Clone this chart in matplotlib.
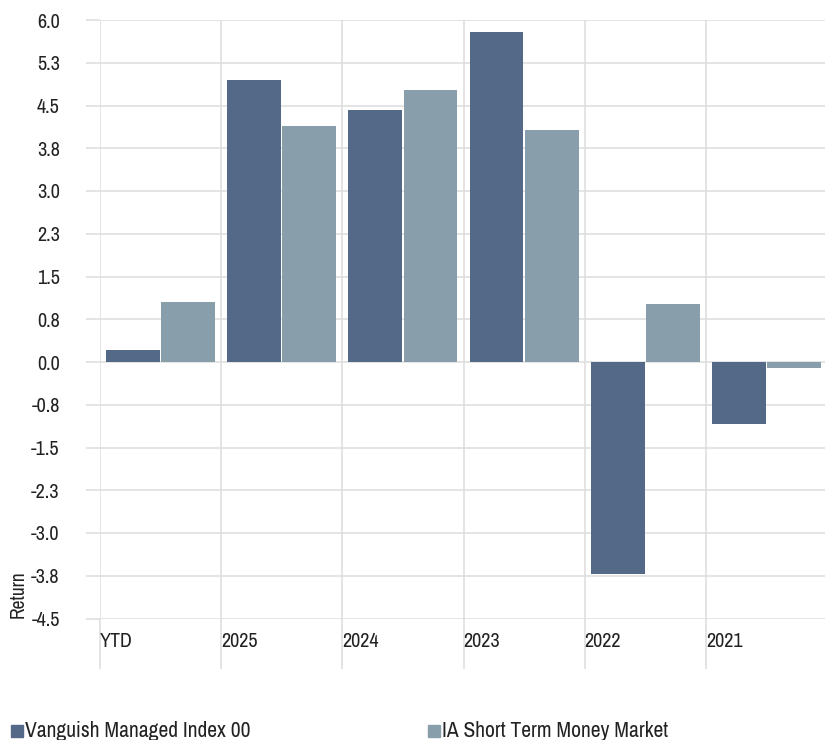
import matplotlib
matplotlib.use("Agg")
import matplotlib.pyplot as plt
from matplotlib import font_manager
from matplotlib.patches import Rectangle
import numpy as np

# data
categories = ["YTD", "2025", "2024", "2023", "2022", "2021"]
series_names = ["Vanguish Managed Index 00", "IA Short Term Money Market"]
fund_returns = [0.21, 4.95, 4.42, 5.79, -3.72, -1.09]
sector_returns = [1.05, 4.14, 4.77, 4.07, 1.02, -0.11]
y_ticks = [6.0, 5.25, 4.5, 3.75, 3.0, 2.25, 1.5, 0.75, 0.0,
           -0.75, -1.5, -2.25, -3.0, -3.75, -4.5]
y_tick_labels = ["6.0", "5.3", "4.5", "3.8", "3.0", "2.3", "1.5", "0.8", "0.0",
                 "-0.8", "-1.5", "-2.3", "-3.0", "-3.8", "-4.5"]

colors = ["#546888", "#889eaa"]
grid_col = "#dddddd"
text_col = "#222222"

# the original uses a condensed face; pick one if any is installed
family, stretch = "DejaVu Sans", "normal"
fonts = font_manager.fontManager.ttflist
for f in fonts:
    if "Narrow" in f.name or "Condensed" in f.name:
        family = f.name
        break
else:
    for f in fonts:
        if f.stretch in ("condensed", "semi-condensed", 375) and f.name.startswith(("DejaVu Sans", "Noto Sans", "Roboto", "Open Sans")):
            family, stretch = f.name, f.stretch
            break
plt.rcParams["font.family"] = [family, "DejaVu Sans"]
plt.rcParams["font.stretch"] = stretch

W, H = 825, 740
fig = plt.figure(figsize=(W / 100, H / 100), dpi=100)
ax = fig.add_axes([100 / W, (H - 618.5) / H, 727 / W, 598.5 / H])

x = np.arange(len(categories))
bw = 0.445
ax.bar(x + 0.05, fund_returns, width=bw, align="edge", color=colors[0], zorder=3)
ax.bar(x + 0.505, sector_returns, width=bw, align="edge", color=colors[1], zorder=3)

ax.set_xlim(0, len(categories))
ax.set_ylim(-4.5, 6.0)

# horizontal grid with ticks sticking out to the left
ax.set_yticks(y_ticks)
ax.set_yticklabels(y_tick_labels)
ax.tick_params(axis="y", length=10, width=1.1, color=grid_col, pad=19,
               labelsize=14.5, labelcolor=text_col)
for v in y_ticks:
    ax.axhline(v, color=grid_col, lw=1.1, zorder=1)

# vertical grid lines extend below the plot
ax.set_xticks(x)
ax.set_xticklabels([])
ax.tick_params(axis="x", length=36, width=1.1, color=grid_col, direction="out")
for v in x:
    ax.axvline(v, color=grid_col, lw=1.1, zorder=1)

trans = ax.get_xaxis_transform()
for i, c in enumerate(categories):
    ax.text(i, -0.038, c, transform=trans, ha="left", va="center",
            fontsize=14.5, color=text_col)

for s in ax.spines.values():
    s.set_visible(False)

ax.set_ylabel("Return", loc="bottom", fontsize=14, color=text_col)
ax.yaxis.set_label_coords(-0.099, 0.0)

# legend along the bottom edge, sitting low like the original
legend_x = [11, 428]
for name, col, lx in zip(series_names, colors, legend_x):
    fig.patches.append(Rectangle((lx / W, 3 / H), 12 / W, 12 / H,
                                 transform=fig.transFigure, color=col))
    fig.text((lx + 14) / W, 3 / H, name, ha="left", va="baseline",
             fontsize=15.5, color=text_col)

fig.savefig("out.png", dpi=100)
